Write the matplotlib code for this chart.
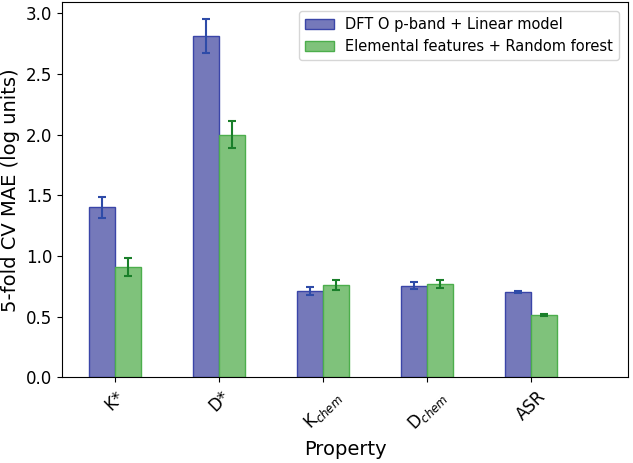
import matplotlib
matplotlib.use("Agg")
import matplotlib.pyplot as plt
import numpy as np

properties = ["K*", "D*", "K$_{chem}$", "D$_{chem}$", "ASR"]
dft_mae = [1.40, 2.81, 0.71, 0.755, 0.705]
dft_err = [0.09, 0.14, 0.035, 0.03, 0.01]
rf_mae = [0.91, 2.00, 0.76, 0.77, 0.514]
rf_err = [0.075, 0.11, 0.04, 0.03, 0.006]

fig, ax = plt.subplots(figsize=(6.33, 4.63), dpi=100)
x = np.arange(len(properties))
w = 0.25
ax.bar(x - w/2, dft_mae, w, yerr=dft_err, color="#7579ba", edgecolor="#3a45a8",
       linewidth=1, capsize=3, error_kw=dict(ecolor="#2e4ba8", elinewidth=1.5, capthick=1.5),
       label="DFT O p-band + Linear model")
ax.bar(x + w/2, rf_mae, w, yerr=rf_err, color="#7fc27b", edgecolor="#4cae4c",
       linewidth=1, capsize=3, error_kw=dict(ecolor="#1a7f2a", elinewidth=1.5, capthick=1.5),
       label="Elemental features + Random forest")

ax.set_xticks(x)
ax.set_xticklabels(properties, rotation=45, fontsize=12)
ax.tick_params(axis='y', labelsize=12)
ax.set_xlim(-0.51, 4.93)
ax.set_ylim(0, 3.09)
ax.set_xlabel("Property", fontsize=14)
ax.set_ylabel("5-fold CV MAE (log units)", fontsize=14)
ax.legend(loc="upper right", fontsize=10.5, borderaxespad=0.6)
fig.subplots_adjust(left=0.098, right=0.992, top=0.995, bottom=0.185)
fig.savefig("out.png", dpi=100)
